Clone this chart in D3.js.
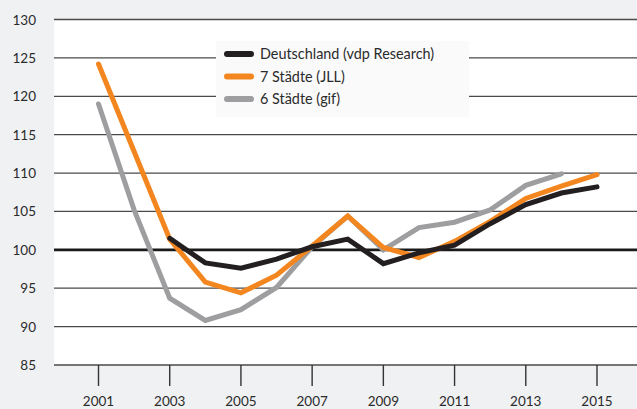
<!doctype html>
<html>
<head>
<meta charset="utf-8">
<title>Preisindex</title>
<script src="https://cdnjs.cloudflare.com/ajax/libs/d3/7.8.5/d3.min.js"></script>
<style>
  body { margin: 0; background: #f0f1f3; font-family: Lato, 'Open Sans', sans-serif; }
  svg text { fill: #2b2b2b; }
</style>
</head>
<body>
<div id="chart"></div>
<script>
  // data (index, 100 baseline line)
  const years = [2001, 2002, 2003, 2004, 2005, 2006, 2007, 2008, 2009, 2010, 2011, 2012, 2013, 2014, 2015];
  const deutschland = [null, null, 101.5, 98.3, 97.6, 98.8, 100.4, 101.4, 98.2, 99.6, 100.6, 103.4, 105.9, 107.4, 108.2];
  const staedte7 = [124.2, 112.8, 101.4, 95.8, 94.4, 96.7, 100.5, 104.4, 100.3, 99.0, 101.1, 103.7, 106.7, 108.3, 109.8];
  const staedte6 = [119.0, 105.2, 93.7, 90.8, 92.2, 95.1, 100.4, 104.4, 100.0, 102.9, 103.6, 105.2, 108.4, 109.9, null];
  const yTicks = [85, 90, 95, 100, 105, 110, 115, 120, 125, 130];
  const xTicks = [2001, 2003, 2005, 2007, 2009, 2011, 2013, 2015];
  const seriesNames = ['Deutschland (vdp Research)', '7 Städte (JLL)', '6 Städte (gif)'];
  const seriesColors = ['#231f20', '#f3861f', '#9e9ea0'];

  const W = 637, H = 409;
  const plotLeft = 54, plotRight = 637, plotTop = 19.5, plotBottom = 365;

  const svg = d3.select('#chart').append('svg')
    .attr('width', W).attr('height', H);

  const x = d3.scaleLinear().domain([2001, 2015]).range([98.5, 597]);
  const y = d3.scaleLinear().domain([85, 130]).range([plotBottom, plotTop]);

  // white plot area
  svg.append('rect')
    .attr('x', plotLeft).attr('y', plotTop)
    .attr('width', plotRight - plotLeft).attr('height', plotBottom - plotTop)
    .attr('fill', '#ffffff');

  // horizontal grid
  svg.append('g').selectAll('line')
    .data(yTicks)
    .join('line')
    .attr('x1', plotLeft).attr('x2', plotRight)
    .attr('y1', d => y(d)).attr('y2', d => y(d))
    .attr('stroke', d => d === 100 ? '#1a1a1a' : '#4a4a4a')
    .attr('stroke-width', d => d === 100 ? 2.6 : 1.3);

  // y labels
  svg.append('g').selectAll('text')
    .data(yTicks)
    .join('text')
    .attr('x', 36).attr('y', d => y(d) + 5)
    .attr('text-anchor', 'end')
    .style('font-size', '13.5px')
    .text(d => d);

  // x ticks + labels
  const xg = svg.append('g');
  xg.selectAll('line')
    .data(xTicks)
    .join('line')
    .attr('x1', d => x(d)).attr('x2', d => x(d))
    .attr('y1', plotBottom).attr('y2', 386)
    .attr('stroke', '#333').attr('stroke-width', 1.4);
  xg.selectAll('text')
    .data(xTicks)
    .join('text')
    .attr('x', d => x(d)).attr('y', 406)
    .attr('text-anchor', 'middle')
    .style('font-size', '13.5px')
    .text(d => d);

  // legend box
  const legend = svg.append('g');
  legend.append('rect')
    .attr('x', 216).attr('y', 41).attr('width', 253).attr('height', 76)
    .attr('fill', '#fafafa');
  seriesNames.forEach((name, i) => {
    const ly = 54 + i * 22.5;
    legend.append('line')
      .attr('x1', 227).attr('x2', 251).attr('y1', ly).attr('y2', ly)
      .attr('stroke', seriesColors[i]).attr('stroke-width', 6)
      .attr('stroke-linecap', 'round');
    legend.append('text')
      .attr('x', 260).attr('y', ly + 5)
      .style('font-size', '14.4px')
      .text(name);
  });

  // lines
  const line = d3.line()
    .defined(d => d[1] != null)
    .x(d => x(d[0]))
    .y(d => y(d[1]));

  const allSeries = [staedte6, staedte7, deutschland];
  const colorOrder = [seriesColors[2], seriesColors[1], seriesColors[0]];

  svg.append('g').selectAll('path')
    .data(allSeries)
    .join('path')
    .attr('d', s => line(years.map((yr, i) => [yr, s[i]])))
    .attr('fill', 'none')
    .attr('stroke', (d, i) => colorOrder[i])
    .attr('stroke-width', 5)
    .attr('stroke-linejoin', 'miter')
    .attr('stroke-linecap', 'round');
</script>
</body>
</html>
